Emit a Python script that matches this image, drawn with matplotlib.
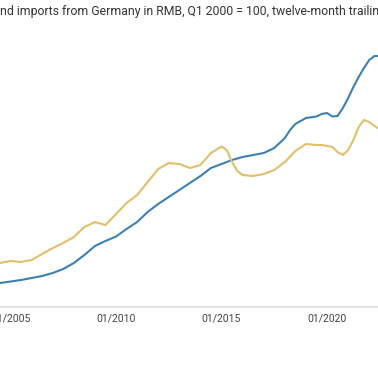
import matplotlib
matplotlib.use("Agg")
import matplotlib.pyplot as plt
import matplotlib.dates as mdates
import pandas as pd

plt.rcParams['font.family'] = ['Roboto', 'DejaVu Sans']

title = "nd imports from Germany in RMB, Q1 2000 = 100, twelve-month trailing"

dates = ["2004-04", "2004-07", "2005-01", "2005-07", "2006-01", "2006-07", "2007-01", "2007-07",
         "2008-01", "2008-07", "2009-01", "2009-07", "2010-01", "2010-07", "2011-01", "2011-07",
         "2012-01", "2012-07", "2013-01", "2013-07", "2014-01", "2014-07", "2015-01", "2015-04",
         "2015-07", "2015-10", "2016-01", "2016-07", "2017-01", "2017-07", "2018-01", "2018-04",
         "2018-07", "2019-01", "2019-07", "2019-10", "2020-01", "2020-04", "2020-07", "2020-10",
         "2021-01", "2021-04", "2021-07", "2021-10", "2022-01", "2022-04", "2022-07"]

exports_to_germany = [180, 188, 194, 200, 208, 216, 228, 244,
                      268, 300, 336, 356, 374, 404, 432, 472,
                      504, 532, 560, 588, 616, 648, 664, 672,
                      680, 686, 692, 700, 708, 728, 768, 800,
                      824, 848, 854, 864, 868, 854, 856, 888,
                      928, 972, 1012, 1048, 1080, 1096, 1096]

imports_from_germany = [264, 268, 276, 272, 280, 304, 328, 348,
                        372, 412, 432, 420, 464, 508, 540, 592,
                        644, 668, 664, 648, 660, 708, 734, 720,
                        672, 636, 620, 616, 624, 640, 672, 694,
                        716, 744, 740, 740, 736, 732, 712, 700,
                        720, 760, 812, 840, 832, 816, 804]

tick_years = ["2005-01-01", "2010-01-01", "2015-01-01", "2020-01-01"]

x = pd.to_datetime(dates)

fig = plt.figure(figsize=(3.78, 3.70), dpi=100)
ax = fig.add_axes([0, (370 - 307) / 370, 1, (307 - 40) / 370])

ax.plot(x, exports_to_germany, color="#3d80b3", lw=1.5, solid_capstyle="round")
ax.plot(x, imports_from_germany, color="#e4bf6a", lw=1.5, solid_capstyle="round")

ax.set_xlim(pd.Timestamp("2004-07-02"), pd.Timestamp("2022-06-01"))
ax.set_ylim(92, 1160)

ax.set_xticks(pd.to_datetime(tick_years))
ax.xaxis.set_major_formatter(mdates.DateFormatter("%m/%Y"))
ax.tick_params(axis="x", length=0, pad=5, labelsize=7.5, labelcolor="#444444")
ax.set_yticks([])
for s in ["top", "left", "right"]:
    ax.spines[s].set_visible(False)
ax.spines["bottom"].set_color("#e0e0e0")
ax.spines["bottom"].set_linewidth(1.3)
ax.patch.set_alpha(0)

fig.text(0.0, 1 - 12 / 370, title, ha="left", va="center", fontsize=8.8, color="#333333")

fig.savefig("out.png", dpi=100)
